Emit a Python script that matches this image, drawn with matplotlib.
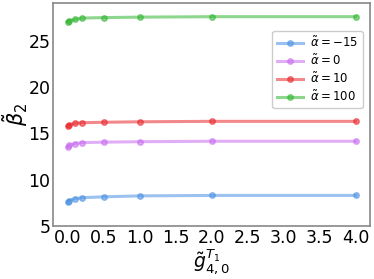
import matplotlib
matplotlib.use("Agg")
import matplotlib.pyplot as plt

# g tilde values on x axis
g_vals = [0.0, 0.02, 0.1, 0.2, 0.5, 1.0, 2.0, 4.0]

beta_m15 = [7.55, 7.75, 7.95, 8.05, 8.15, 8.25, 8.3, 8.3]
beta_0 = [13.5, 13.7, 13.9, 14.0, 14.05, 14.1, 14.15, 14.15]
beta_10 = [15.75, 15.9, 16.1, 16.15, 16.2, 16.25, 16.3, 16.3]
beta_100 = [27.05, 27.15, 27.3, 27.45, 27.5, 27.55, 27.6, 27.6]

labels = [r"$\tilde{\alpha}=-15$", r"$\tilde{\alpha}=0$",
          r"$\tilde{\alpha}=10$", r"$\tilde{\alpha}=100$"]
colors = ["#4a90e2", "#c86bf0", "#e8262a", "#2fb52f"]

fig, ax = plt.subplots(figsize=(3.74, 2.79), dpi=100)

for ys, lab, c in zip([beta_m15, beta_0, beta_10, beta_100], labels, colors):
    ax.plot(g_vals, ys, "-o", color=c, alpha=0.55, lw=2.2, ms=4, label=lab)

ax.set_ylim(5, 29.1)
ax.set_yticks([5, 10, 15, 20, 25])
ax.set_xticks([0.0, 0.5, 1.0, 1.5, 2.0, 2.5, 3.0, 3.5, 4.0])
ax.tick_params(labelsize=12.5, length=0, pad=2)
ax.set_xlabel(r"$\tilde{g}_{4,0}^{T_1}$", fontsize=13.5, labelpad=0)
ax.set_ylabel(r"$\tilde{\beta}_2$", fontsize=15, labelpad=-1)

for sp in ax.spines.values():
    sp.set_color("#888888")
    sp.set_linewidth(1.2)

ax.legend(loc="upper right", bbox_to_anchor=(0.995, 0.9), fontsize=8.5,
          handlelength=2.2, handletextpad=0.6, labelspacing=0.3, framealpha=1)

fig.subplots_adjust(left=0.142, right=0.99, top=0.99, bottom=0.19)
fig.savefig("out.png", dpi=100)
